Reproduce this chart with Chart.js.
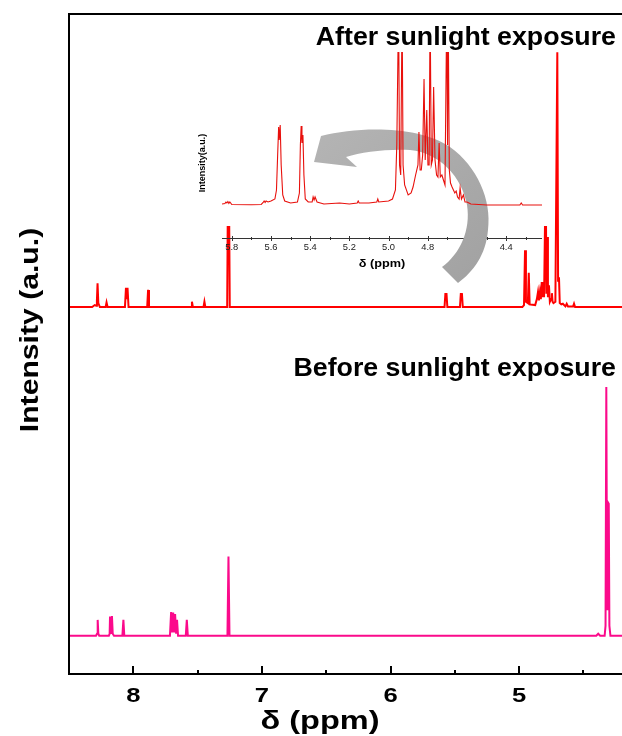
<!DOCTYPE html>
<html><head><meta charset="utf-8">
<script src="https://cdn.jsdelivr.net/npm/chart.js@4.4.0/dist/chart.umd.min.js"></script>
<style>
html,body{margin:0;padding:0;background:#fff;}
#wrap{position:relative;width:622px;height:736px;overflow:hidden;background:#fff;}
#main{position:absolute;left:0;top:0;}
#inset{position:absolute;left:190px;top:40px;}
</style></head><body>
<div id="wrap"><canvas id="main" width="622" height="736"></canvas><canvas id="inset" width="360" height="245"></canvas></div>
<script>
// ---------- DATA ----------
// Before sunlight exposure (ppm, intensity above its own baseline)
const beforePpm = [8.50,8.29,8.282,8.277,8.272,8.265,8.19,8.184,8.181,8.173,8.166,8.16,8.15,8.085,8.077,8.07,
  7.715,7.706,7.698,7.69,7.682,7.675,7.667,7.66,7.652,7.592,7.584,7.576,7.268,7.26,7.252,
  4.40,4.385,4.37,4.335,4.328,4.322,4.316,4.309,4.303,4.298,4.29,4.20];
const beforeInt = [0,0,0.3,2.4,0.3,0,0,0.3,2.9,0.4,3.0,0.3,0,0,2.4,0,
  0,3.6,0.5,3.5,0.5,3.3,0.3,2.4,0,0,2.4,0,0,12,0,
  0,0.3,0,0,1.5,37.7,4,20.2,20,1.5,0,0];
// After sunlight exposure
const afterPpm = [8.50,8.32,8.30,8.288,8.283,8.278,8.272,8.26,8.215,8.208,8.20,8.065,8.057,8.051,8.045,8.037,
  7.892,7.885,7.878,7.551,7.544,7.537,7.454,7.447,7.44,7.27,7.26,7.25,
  5.58,5.573,5.569,5.565,5.558,5.46,5.453,5.449,5.445,5.438,
  4.975,4.962,4.954,4.947,4.932,4.925,4.918,4.875,4.862,4.853,4.846,4.838,4.831,4.824,4.819,4.814,4.806,
  4.793,4.788,4.783,4.776,4.768,4.761,4.752,4.745,4.740,4.733,4.718,4.703,4.697,4.690,4.684,4.672,4.66,
  4.64,4.630,4.62,4.58,4.573,4.565,4.20];
const afterInt = [0,0,0.3,0.2,1,3.6,0.6,0,0,0.7,0,0,2.9,1.2,2.9,0,
  0,2.6,0,0,0.8,0,0,0.8,0,0,30,0,
  0,2.1,1.2,2.1,0,0,2.1,1.2,2.1,0,
  0,0.3,8.6,0.8,0.6,5.2,0.4,0.3,1.2,2.3,1,2.3,1.2,3.8,1.5,3.8,1.5,
  21.1,2,10.6,1.5,3.3,0.8,1.2,2.1,0.8,0.6,0.8,38.6,4,4.5,0.6,0.4,0.5,
  0.1,0.5,0.1,0.1,0.5,0,0];
// Inset: expanded region of the "after" spectrum
const insetPpm = [5.85,5.835,5.83,5.825,5.82,5.815,5.81,5.80,5.70,5.65,5.64,5.635,5.63,5.625,5.615,5.60,
  5.58,5.572,5.566,5.561,5.558,5.553,5.548,5.54,5.53,5.50,
  5.465,5.455,5.45,5.446,5.442,5.437,5.432,5.425,5.41,
  5.39,5.385,5.38,5.375,5.365,5.33,5.25,5.20,5.16,5.155,5.15,5.10,5.06,5.055,5.05,5.00,4.98,
  4.965,4.958,4.949,4.944,4.938,4.931,4.926,4.918,4.90,4.885,4.875,4.862,4.85,4.845,4.839,4.833,
  4.826,4.819,4.813,4.805,4.799,4.793,4.788,4.782,4.776,4.770,4.763,4.755,4.748,4.742,4.736,4.728,
  4.72,4.712,4.703,4.699,4.696,4.690,4.684,4.676,4.669,4.662,4.655,4.648,4.64,4.635,4.628,4.618,
  4.61,4.60,4.58,4.50,4.33,4.323,4.316,4.217];
const insetInt = [1,1.5,3,2,3.5,1.5,3,0.5,0.3,0.5,2.5,4,2.5,4,3,4,
  6,15,50,78,65,80,40,10,4,2,
  3,12,60,79,62,70,30,6,3,
  3,8,5,8,3,1,2,1,2,4,2,2,3,6,3,4,6,
  15,60,200,40,30,200,40,20,10,12,18,30,40,73,35,35,
  50,126,45,95,40,40,200,40,45,118,45,30,28,62,28,30,
  25,20,200,60,200,35,22,18,15,12,14,8,6,17,6,10,
  3,3,1,0,0,2,0,0];

const BEFORE_OFFSET = 5.8;   // vertical stacking of the two spectra
const AFTER_OFFSET = 55.6;

const xMajorTicks = [8,7,6,5];
const xMinorTicks = [7.5,6.5,5.5,4.5];
const insetMajorTicks = [5.8,5.6,5.4,5.2,5.0,4.8,4.6,4.4];
const insetMinorTicks = [5.7,5.5,5.3,5.1,4.9,4.7,4.5,4.3];
const insetTickLabels = ['5.8','5.6','5.4','5.2','5.0','4.8','4.6','4.4'];
const xTitle = 'δ (ppm)';
const yTitle = 'Intensity (a.u.)';
const labelAfter = 'After sunlight exposure';
const labelBefore = 'Before sunlight exposure';
const insetYTitle = 'Intensity(a.u.)';

// ---------- BUILD ----------
const toXY = (p, v, off) => p.map((x, i) => ({x: x, y: v[i] + off}));
const FONT = '"Liberation Sans", Arial, Helvetica, sans-serif';

function drawText(ctx, txt, x, y, font, sx, align, base, rot, color) {
  ctx.save();
  ctx.translate(x, y);
  if (rot) ctx.rotate(rot);
  ctx.scale(sx, 1);
  ctx.font = font;
  ctx.textAlign = align;
  ctx.textBaseline = base;
  ctx.fillStyle = color || '#000';
  ctx.fillText(txt, 0, 0);
  ctx.restore();
}

const mainPlugin = {
  id: 'mainFrame',
  afterDraw(chart) {
    const ctx = chart.ctx, a = chart.chartArea, xs = chart.scales.x;
    ctx.save();
    ctx.strokeStyle = '#000';
    ctx.lineWidth = 2;
    ctx.beginPath();
    ctx.moveTo(a.left, a.bottom); ctx.lineTo(a.left, a.top); ctx.lineTo(a.right + 2, a.top);
    ctx.moveTo(a.left - 1, a.bottom); ctx.lineTo(a.right + 2, a.bottom);
    ctx.stroke();
    ctx.beginPath();
    xMajorTicks.forEach(v => { const px = Math.round(xs.getPixelForValue(v)); ctx.moveTo(px, a.bottom); ctx.lineTo(px, a.bottom - 8); });
    xMinorTicks.forEach(v => { const px = Math.round(xs.getPixelForValue(v)); ctx.moveTo(px, a.bottom); ctx.lineTo(px, a.bottom - 4); });
    ctx.stroke();
    ctx.restore();
    xMajorTicks.forEach(v => drawText(ctx, String(v), xs.getPixelForValue(v), a.bottom + 22, 'bold 20px ' + FONT, 1.28, 'center', 'middle'));
    drawText(ctx, xTitle, 320, a.bottom + 48, 'bold 25px ' + FONT, 1.3, 'center', 'middle');
    drawText(ctx, yTitle, 31, 330, 'bold 26px ' + FONT, 1.16, 'center', 'middle', -Math.PI / 2);
    drawText(ctx, labelAfter, 616, 45, 'bold 25px ' + FONT, 1.07, 'right', 'alphabetic');
    drawText(ctx, labelBefore, 616, 376, 'bold 25px ' + FONT, 1.07, 'right', 'alphabetic');
  }
};

new Chart(document.getElementById('main').getContext('2d'), {
  type: 'line',
  data: { datasets: [
    { label: labelBefore, data: toXY(beforePpm, beforeInt, BEFORE_OFFSET), borderColor: '#fb0a8b', borderWidth: 2, pointRadius: 0, tension: 0 },
    { label: labelAfter, data: toXY(afterPpm, afterInt, AFTER_OFFSET), borderColor: '#ff0000', borderWidth: 2, pointRadius: 0, tension: 0 }
  ]},
  options: {
    responsive: false, animation: false, devicePixelRatio: 1,
    layout: { padding: { left: 69, right: 0, top: 14, bottom: 0 } },
    plugins: { legend: { display: false }, tooltip: { enabled: false } },
    scales: {
      x: { type: 'linear', reverse: true, min: 4.2, max: 8.5,
           grid: { display: false, drawTicks: false }, border: { display: false },
           ticks: { display: false }, afterFit(s) { s.height = 62; } },
      y: { display: false, min: 0, max: 100 }
    }
  },
  plugins: [mainPlugin]
});

// ---------- INSET ----------
const OX = 190, OY = 40;
function drawArrow(ctx) {
  const P = (x, y) => [x - OX, y - OY];
  ctx.save();
  const g = ctx.createLinearGradient(...P(320, 130), ...P(480, 280));
  g.addColorStop(0, '#b4b4b4');
  g.addColorStop(1, '#a2a2a2');
  ctx.fillStyle = g;
  ctx.beginPath();
  ctx.moveTo(...P(314, 162));
  ctx.lineTo(...P(321, 136));
  ctx.bezierCurveTo(...P(360, 126), ...P(420, 126), ...P(450, 147));
  ctx.bezierCurveTo(...P(477, 166), ...P(492, 200), ...P(488, 230));
  ctx.bezierCurveTo(...P(486, 255), ...P(473, 272), ...P(458, 283));
  ctx.lineTo(...P(442, 267));
  ctx.bezierCurveTo(...P(460, 254), ...P(471, 230), ...P(467, 205));
  ctx.bezierCurveTo(...P(462, 177), ...P(440, 153), ...P(410, 150));
  ctx.bezierCurveTo(...P(385, 149), ...P(362, 152), ...P(346, 157));
  ctx.lineTo(...P(357, 167));
  ctx.closePath();
  ctx.fill();
  ctx.restore();
}

const insetPlugin = {
  id: 'insetDeco',
  beforeDraw(chart) {
    const ctx = chart.ctx;
    ctx.save(); ctx.fillStyle = '#fff'; ctx.fillRect(0, 12, chart.width, 174); ctx.restore();
  },
  beforeDatasetsDraw(chart) {
    const ctx = chart.ctx, a = chart.chartArea, xs = chart.scales.x;
    ctx.save();
    ctx.strokeStyle = '#333';
    ctx.lineWidth = 1;
    ctx.beginPath();
    ctx.moveTo(a.left, a.bottom + 0.5); ctx.lineTo(a.right, a.bottom + 0.5);
    insetMajorTicks.forEach(v => { const px = Math.round(xs.getPixelForValue(v)) + 0.5; ctx.moveTo(px, a.bottom - 2); ctx.lineTo(px, a.bottom + 3); });
    insetMinorTicks.forEach(v => { const px = Math.round(xs.getPixelForValue(v)) + 0.5; ctx.moveTo(px, a.bottom - 1); ctx.lineTo(px, a.bottom + 2); });
    ctx.stroke();
    ctx.restore();
    insetMajorTicks.forEach((v, i) => drawText(ctx, insetTickLabels[i], xs.getPixelForValue(v), a.bottom + 10, '8.5px ' + FONT, 1.1, 'center', 'middle', 0, '#222'));
    drawText(ctx, xTitle, 382 - OX, 264 - OY, 'bold 10px ' + FONT, 1.27, 'center', 'middle');
    drawText(ctx, insetYTitle, 203 - OX, 163 - OY, 'bold 9px ' + FONT, 1, 'center', 'middle', -Math.PI / 2);
    drawArrow(ctx);
  }
};

new Chart(document.getElementById('inset').getContext('2d'), {
  type: 'line',
  data: { datasets: [
    { label: 'inset', data: toXY(insetPpm, insetInt, 0), borderColor: '#e8100c', borderWidth: 1.1, pointRadius: 0, tension: 0 }
  ]},
  options: {
    responsive: false, animation: false, devicePixelRatio: 1,
    layout: { padding: { left: 32, right: 8, top: 12, bottom: 0 } },
    plugins: { legend: { display: false }, tooltip: { enabled: false } },
    scales: {
      x: { type: 'linear', reverse: true, min: 4.217, max: 5.85,
           grid: { display: false, drawTicks: false }, border: { display: false },
           ticks: { display: false }, afterFit(s) { s.height = 47; } },
      y: { display: false, min: -33, max: 153 }
    }
  },
  plugins: [insetPlugin]
});
</script>
</body></html>
